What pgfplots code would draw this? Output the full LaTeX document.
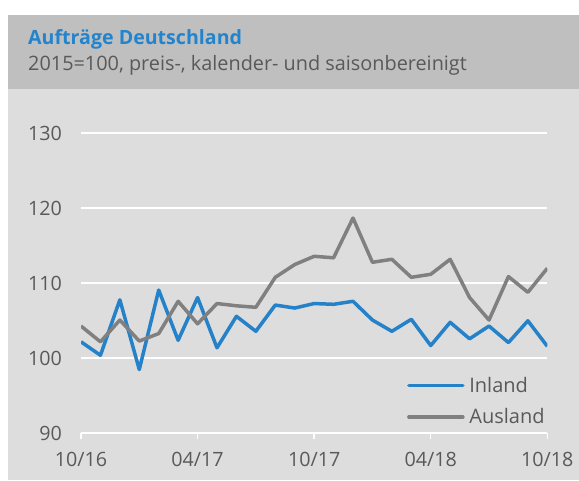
\documentclass[border=0pt]{standalone}
\usepackage{pgfplots}
\pgfplotsset{compat=1.18}
\usepackage{fontspec}
\setmainfont{Open Sans}
\definecolor{hdrbg}{RGB}{191,191,191}
\definecolor{plotbg}{RGB}{221,221,221}
\definecolor{titleblue}{RGB}{34,132,205}
\definecolor{lineblue}{RGB}{38,130,200}
\definecolor{linegray}{RGB}{128,128,128}
\definecolor{txtgray}{RGB}{89,89,89}
\begin{document}
\begin{tikzpicture}
\useasboundingbox (0,0) rectangle (579bp,481bp);
\fill[hdrbg] (8bp,391.7bp) rectangle (579bp,466bp);
\fill[plotbg] (8bp,1bp) rectangle (579bp,391.7bp);
\node[anchor=base west, inner sep=0pt, text=titleblue, font=\fontsize{19.6bp}{24bp}\selectfont\bfseries] at (28bp,436.3bp) {Aufträge Deutschland};
\node[anchor=base west, inner sep=0pt, text=txtgray, font=\fontsize{19.85bp}{23bp}\selectfont] at (28bp,410.3bp) {2015=100, preis-, kalender- und saisonbereinigt};
\begin{axis}[
  at={(81bp,47.7bp)}, anchor=south west,
  scale only axis, width=466.3bp, height=300bp,
  xmin=0, xmax=24, ymin=90, ymax=130,
  xtick={0,6,12,18,24},
  xticklabels={10/16,04/17,10/17,04/18,10/18},
  ytick={90,100,110,120,130},
  /pgf/number format/assume math mode=true,
  ymajorgrids, major grid style={white, line width=2bp},
  separate axis lines,
  axis x line*=bottom,
  x axis line style={white, line width=1.5bp, -},
  axis y line*=left,
  y axis line style={draw=none},
  xtick style={white, line width=1.5bp},
  ytick style={draw=none},
  tick align=outside, major tick length=6bp,
  ticklabel style={text=txtgray, font=\fontsize{19.7bp}{23bp}\selectfont},
  xticklabel style={anchor=north, inner sep=0pt, yshift=-13bp},
  yticklabel style={anchor=east, inner sep=0pt, xshift=-13bp},
  legend style={draw=none, fill=none, inner sep=0pt, at={(0.699,0.1065)}, anchor=west,
    font=\fontsize{20bp}{24bp}\selectfont, text=txtgray,
    nodes={inner sep=0pt, text height=14bp, text depth=0pt},
    row sep=17.3bp,
    /tikz/every odd column/.append style={column sep=4.7bp}},
  legend cell align=left,
  legend image code/.code={\draw[#1, line cap=round] (0bp,0bp) -- (54bp,0bp);},
]
\addplot[lineblue, line width=3.5bp, line join=round] coordinates {
(0,102.2) (1,100.4) (2,107.8) (3,98.5) (4,109.1) (5,102.4) (6,108.1) (7,101.4)
(8,105.6) (9,103.6) (10,107.1) (11,106.7) (12,107.3) (13,107.2) (14,107.6)
(15,105.1) (16,103.6) (17,105.2) (18,101.7) (19,104.8) (20,102.6) (21,104.3)
(22,102.1) (23,105.0) (24,101.6)};
\addlegendentry{Inland}
\addplot[linegray, line width=3.5bp, line join=round] coordinates {
(0,104.3) (1,102.2) (2,105.1) (3,102.3) (4,103.3) (5,107.6) (6,104.6) (7,107.3)
(8,107.0) (9,106.8) (10,110.8) (11,112.5) (12,113.6) (13,113.4) (14,118.7)
(15,112.8) (16,113.2) (17,110.8) (18,111.2) (19,113.2) (20,108.1) (21,105.1)
(22,110.9) (23,108.8) (24,112.0)};
\addlegendentry{Ausland}
\end{axis}
\end{tikzpicture}
\end{document}
